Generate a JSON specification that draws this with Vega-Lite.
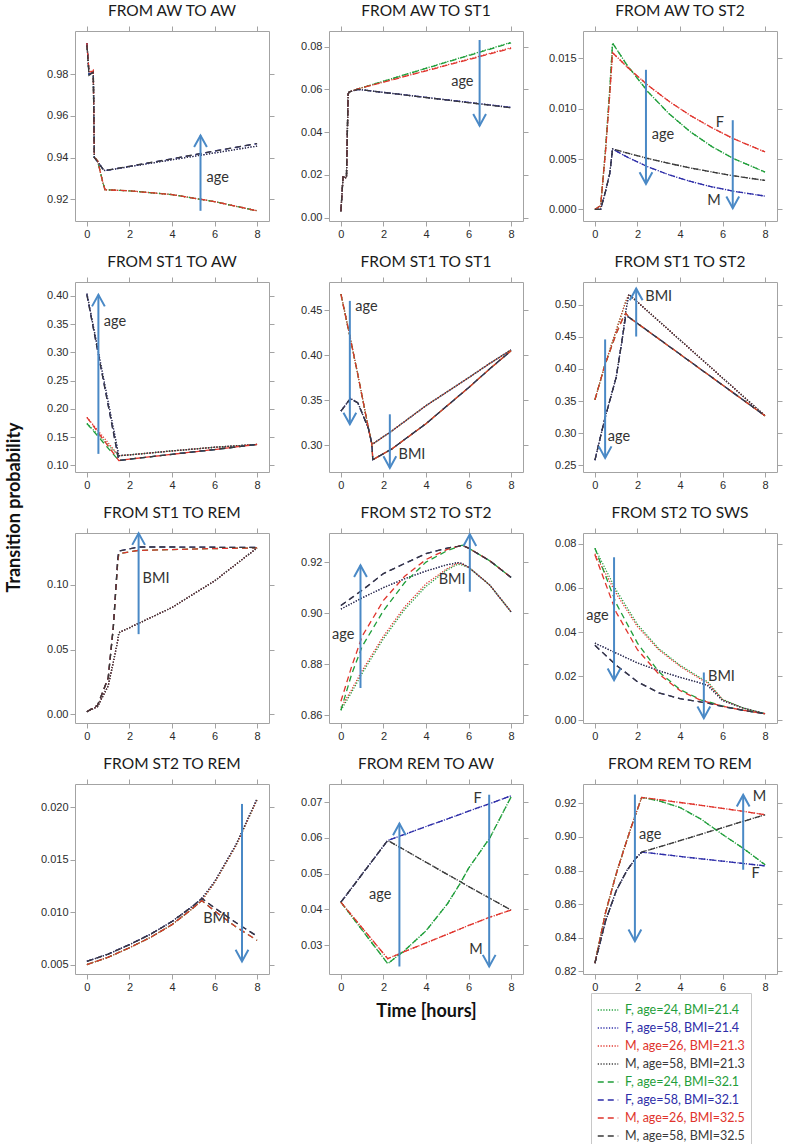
{
"$schema": "https://vega.github.io/schema/vega-lite/v6.json",
"padding": {"left": 4, "top": 3, "right": 4, "bottom": 0},
"background": "white",
"datasets": {
"L": [
{"p":1,"t":0,"a":0.995,"b":0.995,"c":0.995,"d":0.995,"e":0.995,"f":0.995,"g":0.995,"h":0.994},
{"p":1,"t":0.1,"a":0.98,"b":0.98,"c":0.981,"d":0.98,"e":0.98,"f":0.98,"g":0.981,"h":0.9795},
{"p":1,"t":0.3,"a":0.981,"b":0.981,"c":0.982,"d":0.981,"e":0.981,"f":0.981,"g":0.9815,"h":0.981},
{"p":1,"t":0.35,"a":0.94,"b":0.94,"c":0.94,"d":0.94,"e":0.94,"f":0.94,"g":0.94,"h":0.94},
{"p":1,"t":0.5,"a":0.9385,"b":0.938,"c":0.9385,"d":0.938,"e":0.9385,"f":0.938,"g":0.9385,"h":0.938},
{"p":1,"t":0.75,"a":0.928,"b":0.9345,"c":0.928,"d":0.9345,"e":0.928,"f":0.9345,"g":0.928,"h":0.9345},
{"p":1,"t":0.85,"a":0.9245,"b":0.9337,"c":0.9245,"d":0.9337,"e":0.9245,"f":0.9337,"g":0.9245,"h":0.9337},
{"p":1,"t":2,"a":0.924,"b":0.9356,"c":0.924,"d":0.9356,"e":0.924,"f":0.9358,"g":0.924,"h":0.9358},
{"p":1,"t":4,"a":0.9222,"b":0.9389,"c":0.9222,"d":0.9389,"e":0.9222,"f":0.9394,"g":0.9222,"h":0.9394},
{"p":1,"t":6,"a":0.9188,"b":0.9422,"c":0.9188,"d":0.9422,"e":0.9188,"f":0.9431,"g":0.9188,"h":0.9431},
{"p":1,"t":8,"a":0.9144,"b":0.9455,"c":0.9144,"d":0.9455,"e":0.9144,"f":0.9467,"g":0.9144,"h":0.9467},
{"p":2,"t":0,"a":0.003,"b":0.003,"c":0.003,"d":0.003,"e":0.003,"f":0.003,"g":0.003,"h":0.003},
{"p":2,"t":0.1,"a":0.019,"b":0.019,"c":0.019,"d":0.019,"e":0.019,"f":0.019,"g":0.019,"h":0.019},
{"p":2,"t":0.26,"a":0.0185,"b":0.0185,"c":0.0185,"d":0.0185,"e":0.0185,"f":0.0185,"g":0.0185,"h":0.0185},
{"p":2,"t":0.34,"a":0.058,"b":0.058,"c":0.058,"d":0.058,"e":0.058,"f":0.058,"g":0.058,"h":0.058},
{"p":2,"t":0.4,"a":0.0588,"b":0.0588,"c":0.0588,"d":0.0588,"e":0.0588,"f":0.0588,"g":0.0588,"h":0.0588},
{"p":2,"t":0.8,"a":0.0602,"b":0.06,"c":0.0602,"d":0.06,"e":0.0602,"f":0.06,"g":0.0602,"h":0.06},
{"p":2,"t":8,"a":0.082,"b":0.0516,"c":0.0795,"d":0.0514,"e":0.0818,"f":0.0515,"g":0.0792,"h":0.0514},
{"p":3,"t":0,"a":0,"b":0,"c":0,"d":0,"e":0,"f":0,"g":0,"h":0},
{"p":3,"t":0.27,"a":0.0003,"b":0,"c":0.0003,"d":0,"e":0.0004,"f":0,"g":0.0004,"h":0},
{"p":3,"t":0.5,"a":0.006,"b":0.0018,"c":0.0058,"d":0.0018,"e":0.006,"f":0.0018,"g":0.0058,"h":0.0018},
{"p":3,"t":0.7,"a":0.012,"b":0.0036,"c":0.0115,"d":0.0036,"e":0.012,"f":0.0036,"g":0.0115,"h":0.0036},
{"p":3,"t":0.83,"a":0.0165,"b":0.006,"c":0.01555,"d":0.006,"e":0.0165,"f":0.006,"g":0.01555,"h":0.006},
{"p":3,"t":1.5,"a":0.01435,"b":0.00521,"c":0.01416,"d":0.0056,"e":0.01435,"f":0.00521,"g":0.01416,"h":0.0056},
{"p":3,"t":2.5,"a":0.01165,"b":0.00422,"c":0.0123,"d":0.00505,"e":0.01165,"f":0.00422,"g":0.0123,"h":0.00505},
{"p":3,"t":3.5,"a":0.00946,"b":0.00342,"c":0.0107,"d":0.00456,"e":0.00946,"f":0.00342,"g":0.0107,"h":0.00456},
{"p":3,"t":4.5,"a":0.00768,"b":0.00277,"c":0.0093,"d":0.00411,"e":0.00768,"f":0.00277,"g":0.0093,"h":0.00411},
{"p":3,"t":5.5,"a":0.00623,"b":0.00224,"c":0.0081,"d":0.00371,"e":0.00623,"f":0.00224,"g":0.0081,"h":0.00371},
{"p":3,"t":6.5,"a":0.00506,"b":0.00181,"c":0.00703,"d":0.00334,"e":0.00506,"f":0.00181,"g":0.00703,"h":0.00334},
{"p":3,"t":8,"a":0.0037,"b":0.00132,"c":0.0057,"d":0.00287,"e":0.0037,"f":0.00132,"g":0.0057,"h":0.00287},
{"p":4,"t":0,"a":0.174,"b":0.404,"c":0.185,"d":0.404,"e":0.174,"f":0.402,"g":0.185,"h":0.402},
{"p":4,"t":1.5,"a":0.117,"b":0.117,"c":0.117,"d":0.117,"e":0.1085,"f":0.1085,"g":0.1085,"h":0.1085},
{"p":4,"t":2,"a":0.1185,"b":0.1185,"c":0.1185,"d":0.1185,"e":0.111,"f":0.111,"g":0.111,"h":0.111},
{"p":4,"t":4,"a":0.1255,"b":0.1255,"c":0.1255,"d":0.1255,"e":0.1195,"f":0.1195,"g":0.1195,"h":0.1195},
{"p":4,"t":6,"a":0.132,"b":0.132,"c":0.132,"d":0.132,"e":0.128,"f":0.128,"g":0.128,"h":0.128},
{"p":4,"t":8,"a":0.137,"b":0.137,"c":0.137,"d":0.137,"e":0.137,"f":0.137,"g":0.137,"h":0.137},
{"p":5,"t":0,"a":0.468,"b":0.338,"c":0.468,"d":0.338,"e":0.468,"f":0.338,"g":0.468,"h":0.338},
{"p":5,"t":0.45,"a":0.418,"b":0.352,"c":0.418,"d":0.352,"e":0.418,"f":0.352,"g":0.418,"h":0.352},
{"p":5,"t":0.8,"a":0.378,"b":0.347,"c":0.378,"d":0.347,"e":0.378,"f":0.347,"g":0.378,"h":0.347},
{"p":5,"t":1.3,"a":0.318,"b":0.318,"c":0.318,"d":0.318,"e":0.318,"f":0.318,"g":0.318,"h":0.318},
{"p":5,"t":1.45,"a":0.302,"b":0.302,"c":0.302,"d":0.302,"e":0.302,"f":0.302,"g":0.302,"h":0.302},
{"p":5,"t":1.5,"a":0.3015,"b":0.3015,"c":0.3015,"d":0.3015,"e":0.284,"f":0.284,"g":0.284,"h":0.284},
{"p":5,"t":2.4,"a":0.316,"b":0.316,"c":0.316,"d":0.316,"e":0.296,"f":0.296,"g":0.296,"h":0.296},
{"p":5,"t":4,"a":0.344,"b":0.344,"c":0.344,"d":0.344,"e":0.324,"f":0.324,"g":0.324,"h":0.324},
{"p":5,"t":6,"a":0.375,"b":0.375,"c":0.375,"d":0.375,"e":0.364,"f":0.364,"g":0.364,"h":0.364},
{"p":5,"t":7,"a":0.391,"b":0.391,"c":0.391,"d":0.391,"e":0.385,"f":0.385,"g":0.385,"h":0.385},
{"p":5,"t":8,"a":0.406,"b":0.406,"c":0.406,"d":0.406,"e":0.405,"f":0.405,"g":0.405,"h":0.405},
{"p":6,"t":0,"a":0.352,"b":0.258,"c":0.352,"d":0.258,"e":0.352,"f":0.258,"g":0.352,"h":0.258},
{"p":6,"t":0.46,"a":0.405,"b":0.322,"c":0.405,"d":0.322,"e":0.405,"f":0.322,"g":0.405,"h":0.322},
{"p":6,"t":1.0,"a":0.46,"b":0.387,"c":0.46,"d":0.387,"e":0.455,"f":0.387,"g":0.455,"h":0.387},
{"p":6,"t":1.3,"a":0.49,"b":0.45,"c":0.49,"d":0.45,"e":0.478,"f":0.45,"g":0.478,"h":0.45},
{"p":6,"t":1.45,"a":0.505,"b":0.49,"c":0.505,"d":0.49,"e":0.487,"f":0.483,"g":0.487,"h":0.483},
{"p":6,"t":1.6,"a":0.516,"b":0.516,"c":0.516,"d":0.516,"e":0.4805,"f":0.4805,"g":0.4805,"h":0.4805},
{"p":6,"t":8,"a":0.327,"b":0.327,"c":0.327,"d":0.327,"e":0.327,"f":0.327,"g":0.327,"h":0.327},
{"p":7,"t":0,"a":0.002,"b":0.002,"c":0.002,"d":0.002,"e":0.002,"f":0.002,"g":0.002,"h":0.002},
{"p":7,"t":0.5,"a":0.006,"b":0.006,"c":0.006,"d":0.006,"e":0.007,"f":0.007,"g":0.007,"h":0.007},
{"p":7,"t":1.0,"a":0.022,"b":0.022,"c":0.022,"d":0.022,"e":0.028,"f":0.028,"g":0.028,"h":0.028},
{"p":7,"t":1.24,"a":0.04,"b":0.04,"c":0.04,"d":0.04,"e":0.067,"f":0.067,"g":0.067,"h":0.067},
{"p":7,"t":1.45,"a":0.057,"b":0.057,"c":0.057,"d":0.057,"e":0.118,"f":0.12,"g":0.118,"h":0.12},
{"p":7,"t":1.5,"a":0.063,"b":0.063,"c":0.063,"d":0.063,"e":0.124,"f":0.126,"g":0.124,"h":0.126},
{"p":7,"t":2.4,"a":0.07,"b":0.07,"c":0.07,"d":0.07,"e":0.1265,"f":0.1292,"g":0.1265,"h":0.1292},
{"p":7,"t":4,"a":0.0825,"b":0.0825,"c":0.0825,"d":0.0825,"e":0.1272,"f":0.1292,"g":0.1272,"h":0.1292},
{"p":7,"t":6,"a":0.103,"b":0.103,"c":0.103,"d":0.103,"e":0.128,"f":0.129,"g":0.128,"h":0.129},
{"p":7,"t":8,"a":0.1285,"b":0.1285,"c":0.1285,"d":0.1285,"e":0.1285,"f":0.1288,"g":0.1285,"h":0.1288},
{"p":8,"t":0,"a":0.862,"b":0.9016,"c":0.863,"d":0.9016,"e":0.862,"f":0.903,"g":0.8655,"h":0.903},
{"p":8,"t":0.5,"a":0.869,"b":0.9038,"c":0.87,"d":0.9038,"e":0.876,"f":0.906,"g":0.879,"h":0.906},
{"p":8,"t":1,"a":0.8765,"b":0.906,"c":0.8775,"d":0.906,"e":0.887,"f":0.909,"g":0.891,"h":0.909},
{"p":8,"t":2,"a":0.89,"b":0.91,"c":0.891,"d":0.91,"e":0.901,"f":0.9155,"g":0.905,"h":0.9155},
{"p":8,"t":3,"a":0.9015,"b":0.9135,"c":0.9025,"d":0.9135,"e":0.912,"f":0.9195,"g":0.9145,"h":0.9195},
{"p":8,"t":4,"a":0.9105,"b":0.9165,"c":0.9115,"d":0.9165,"e":0.92,"f":0.9233,"g":0.921,"h":0.9233},
{"p":8,"t":5,"a":0.917,"b":0.919,"c":0.9175,"d":0.919,"e":0.9245,"f":0.9255,"g":0.925,"h":0.9255},
{"p":8,"t":5.5,"a":0.9192,"b":0.9198,"c":0.9196,"d":0.9198,"e":0.926,"f":0.9262,"g":0.9262,"h":0.9262},
{"p":8,"t":5.7,"a":0.9188,"b":0.9194,"c":0.9192,"d":0.9194,"e":0.9266,"f":0.9266,"g":0.9266,"h":0.9266},
{"p":8,"t":6,"a":0.918,"b":0.918,"c":0.918,"d":0.918,"e":0.9255,"f":0.9255,"g":0.9255,"h":0.9255},
{"p":8,"t":7,"a":0.911,"b":0.911,"c":0.911,"d":0.911,"e":0.9205,"f":0.9205,"g":0.9205,"h":0.9205},
{"p":8,"t":8,"a":0.9005,"b":0.9005,"c":0.9005,"d":0.9005,"e":0.914,"f":0.914,"g":0.914,"h":0.914},
{"p":9,"t":0,"a":0.078,"b":0.035,"c":0.0755,"d":0.035,"e":0.078,"f":0.034,"g":0.075,"h":0.034},
{"p":9,"t":1,"a":0.059,"b":0.0305,"c":0.0575,"d":0.0305,"e":0.053,"f":0.025,"g":0.049,"h":0.025},
{"p":9,"t":2,"a":0.0435,"b":0.026,"c":0.0425,"d":0.026,"e":0.035,"f":0.0175,"g":0.032,"h":0.0175},
{"p":9,"t":3,"a":0.0325,"b":0.0225,"c":0.032,"d":0.0225,"e":0.022,"f":0.0125,"g":0.021,"h":0.0125},
{"p":9,"t":4,"a":0.025,"b":0.0195,"c":0.0245,"d":0.0195,"e":0.014,"f":0.0098,"g":0.0135,"h":0.0098},
{"p":9,"t":5,"a":0.019,"b":0.0168,"c":0.0185,"d":0.0168,"e":0.0092,"f":0.0083,"g":0.009,"h":0.0083},
{"p":9,"t":5.3,"a":0.0175,"b":0.0158,"c":0.017,"d":0.0158,"e":0.0085,"f":0.0078,"g":0.0083,"h":0.0078},
{"p":9,"t":6,"a":0.0095,"b":0.009,"c":0.0093,"d":0.009,"e":0.0065,"f":0.0063,"g":0.0064,"h":0.0063},
{"p":9,"t":7,"a":0.0055,"b":0.0055,"c":0.0054,"d":0.0055,"e":0.0045,"f":0.0045,"g":0.0045,"h":0.0045},
{"p":9,"t":8,"a":0.003,"b":0.003,"c":0.003,"d":0.003,"e":0.003,"f":0.003,"g":0.003,"h":0.003},
{"p":10,"t":0,"a":0.005,"b":0.0053,"c":0.005,"d":0.0053,"e":0.005,"f":0.0053,"g":0.005,"h":0.0053},
{"p":10,"t":1,"a":0.0057,"b":0.006,"c":0.0057,"d":0.006,"e":0.0057,"f":0.006,"g":0.0057,"h":0.006},
{"p":10,"t":2,"a":0.0066,"b":0.0069,"c":0.0066,"d":0.0069,"e":0.0066,"f":0.0069,"g":0.0066,"h":0.0069},
{"p":10,"t":3,"a":0.0076,"b":0.0079,"c":0.0076,"d":0.0079,"e":0.0076,"f":0.0079,"g":0.0076,"h":0.0079},
{"p":10,"t":4,"a":0.0088,"b":0.0091,"c":0.0088,"d":0.0091,"e":0.0088,"f":0.0091,"g":0.0088,"h":0.0091},
{"p":10,"t":5,"a":0.0104,"b":0.0106,"c":0.0104,"d":0.0106,"e":0.0104,"f":0.0106,"g":0.0104,"h":0.0106},
{"p":10,"t":5.4,"a":0.0111,"b":0.0113,"c":0.0111,"d":0.0113,"e":0.0111,"f":0.0113,"g":0.0111,"h":0.0113},
{"p":10,"t":6,"a":0.0128,"b":0.0129,"c":0.0128,"d":0.0129,"e":0.0101,"f":0.0104,"g":0.0101,"h":0.0104},
{"p":10,"t":7,"a":0.0163,"b":0.0164,"c":0.0163,"d":0.0164,"e":0.0086,"f":0.009,"g":0.0086,"h":0.009},
{"p":10,"t":8,"a":0.0207,"b":0.0208,"c":0.0207,"d":0.0208,"e":0.0073,"f":0.0077,"g":0.0073,"h":0.0077},
{"p":11,"t":0,"a":0.042,"b":0.042,"c":0.042,"d":0.042,"e":0.042,"f":0.042,"g":0.042,"h":0.042},
{"p":11,"t":2.2,"a":0.0248,"b":0.0593,"c":0.0262,"d":0.0593,"e":0.0248,"f":0.0593,"g":0.0262,"h":0.0593},
{"p":11,"t":3,"a":0.0285,"b":0.061,"c":0.0282,"d":0.0566,"e":0.0285,"f":0.061,"g":0.0282,"h":0.0566},
{"p":11,"t":4,"a":0.034,"b":0.0632,"c":0.0306,"d":0.0532,"e":0.034,"f":0.0632,"g":0.0306,"h":0.0532},
{"p":11,"t":5,"a":0.0415,"b":0.0653,"c":0.033,"d":0.0498,"e":0.0415,"f":0.0653,"g":0.033,"h":0.0498},
{"p":11,"t":5.6,"a":0.0472,"b":0.0666,"c":0.0345,"d":0.0478,"e":0.0472,"f":0.0666,"g":0.0345,"h":0.0478},
{"p":11,"t":6,"a":0.0515,"b":0.0675,"c":0.0355,"d":0.0464,"e":0.0515,"f":0.0675,"g":0.0355,"h":0.0464},
{"p":11,"t":7,"a":0.06,"b":0.0696,"c":0.0378,"d":0.0431,"e":0.06,"f":0.0696,"g":0.0378,"h":0.0431},
{"p":11,"t":8,"a":0.0715,"b":0.0718,"c":0.0398,"d":0.0398,"e":0.0715,"f":0.0718,"g":0.0398,"h":0.0398},
{"p":12,"t":0,"a":0.825,"b":0.825,"c":0.825,"d":0.825,"e":0.825,"f":0.825,"g":0.825,"h":0.825},
{"p":12,"t":0.5,"a":0.855,"b":0.85,"c":0.855,"d":0.85,"e":0.855,"f":0.85,"g":0.855,"h":0.85},
{"p":12,"t":1,"a":0.878,"b":0.868,"c":0.878,"d":0.868,"e":0.878,"f":0.868,"g":0.878,"h":0.868},
{"p":12,"t":1.5,"a":0.898,"b":0.88,"c":0.898,"d":0.88,"e":0.898,"f":0.88,"g":0.898,"h":0.88},
{"p":12,"t":1.9,"a":0.913,"b":0.887,"c":0.913,"d":0.887,"e":0.913,"f":0.887,"g":0.913,"h":0.887},
{"p":12,"t":2.2,"a":0.9235,"b":0.891,"c":0.9235,"d":0.891,"e":0.9235,"f":0.891,"g":0.9235,"h":0.891},
{"p":12,"t":3,"a":0.9215,"b":0.8899,"c":0.9222,"d":0.894,"e":0.9215,"f":0.8899,"g":0.9222,"h":0.894},
{"p":12,"t":4,"a":0.9175,"b":0.8884,"c":0.9205,"d":0.8978,"e":0.9175,"f":0.8884,"g":0.9205,"h":0.8978},
{"p":12,"t":5,"a":0.9105,"b":0.887,"c":0.9188,"d":0.9017,"e":0.9105,"f":0.887,"g":0.9188,"h":0.9017},
{"p":12,"t":6,"a":0.9015,"b":0.8856,"c":0.917,"d":0.9055,"e":0.9015,"f":0.8856,"g":0.917,"h":0.9055},
{"p":12,"t":7,"a":0.893,"b":0.8842,"c":0.9152,"d":0.9094,"e":0.893,"f":0.8842,"g":0.9152,"h":0.9094},
{"p":12,"t":8,"a":0.8835,"b":0.8828,"c":0.9132,"d":0.9132,"e":0.8835,"f":0.8828,"g":0.9132,"h":0.9132}
],
"A": [
{"p":1,"t":5.34,"y1":0.9144,"y2":0.9506},
{"p":2,"t":6.52,"y1":0.0831,"y2":0.043},
{"p":3,"t":2.4,"y1":0.01385,"y2":0.00253},
{"p":3,"t":6.48,"y1":0.00885,"y2":0.00012},
{"p":4,"t":0.54,"y1":0.1203,"y2":0.402},
{"p":5,"t":0.42,"y1":0.4604,"y2":0.3233},
{"p":5,"t":2.3,"y1":0.3344,"y2":0.2748},
{"p":6,"t":1.94,"y1":0.4505,"y2":0.525},
{"p":6,"t":0.48,"y1":0.446,"y2":0.2614},
{"p":7,"t":2.43,"y1":0.0619,"y2":0.1398},
{"p":8,"t":0.92,"y1":0.8707,"y2":0.9187},
{"p":8,"t":6.06,"y1":0.9084,"y2":0.9309},
{"p":9,"t":0.9,"y1":0.0739,"y2":0.0182},
{"p":9,"t":5.12,"y1":0.0217,"y2":0.001},
{"p":10,"t":7.29,"y1":0.0203,"y2":0.0053},
{"p":11,"t":2.75,"y1":0.024,"y2":0.064},
{"p":11,"t":6.97,"y1":0.0721,"y2":0.024},
{"p":12,"t":1.88,"y1":0.9252,"y2":0.838},
{"p":12,"t":6.97,"y1":0.8805,"y2":0.925}
],
"T": [
{"p":1,"t":6.15,"v":0.9304,"txt":"age"},
{"p":2,"t":5.71,"v":0.0636,"txt":"age"},
{"p":3,"t":3.2,"v":0.00743,"txt":"age"},
{"p":3,"t":5.87,"v":0.00857,"txt":"F"},
{"p":3,"t":5.6,"v":0.0008,"txt":"M"},
{"p":4,"t":1.32,"v":0.3544,"txt":"age"},
{"p":5,"t":1.2,"v":0.4537,"txt":"age"},
{"p":5,"t":3.34,"v":0.2889,"txt":"BMI"},
{"p":6,"t":3.0,"v":0.512,"txt":"BMI"},
{"p":6,"t":1.13,"v":0.2938,"txt":"age"},
{"p":7,"t":3.25,"v":0.1044,"txt":"BMI"},
{"p":8,"t":0.11,"v":0.8915,"txt":"age"},
{"p":8,"t":5.23,"v":0.9131,"txt":"BMI"},
{"p":9,"t":0.12,"v":0.0475,"txt":"age"},
{"p":9,"t":5.95,"v":0.0197,"txt":"BMI"},
{"p":10,"t":6.1,"v":0.0093,"txt":"BMI"},
{"p":11,"t":1.85,"v":0.044,"txt":"age"},
{"p":11,"t":6.43,"v":0.0709,"txt":"F"},
{"p":11,"t":6.35,"v":0.0285,"txt":"M"},
{"p":12,"t":2.6,"v":0.9012,"txt":"age"},
{"p":12,"t":7.74,"v":0.9235,"txt":"M"},
{"p":12,"t":7.55,"v":0.8777,"txt":"F"}
]
},
"columns": 3,
"spacing": {"row": 61, "column": 60},
"bounds": "flush",
"concat": [
{"title": {"text": "FROM AW TO AW", "style": "ptitle"}, "width": 194, "height": 190, "resolve": {"axis": {"x": "independent", "y": "independent"}},
 "layer": [
  {"data": {"name": "L"}, "transform": [{"filter": "datum.p==1"}, {"fold": ["a","b","c","d","e","f","g","h"], "as": ["s","v"]}],
   "mark": {"type": "line", "strokeWidth": 1.3},
   "encoding": {
    "x": {"field": "t", "type": "quantitative", "scale": {"domain": [-0.56, 8.56], "nice": false}, "axis": {"values": [0,2,4,6,8], "title": null}},
    "y": {"field": "v", "type": "quantitative", "scale": {"domain": [0.9095, 1.0008], "nice": false, "zero": false}, "axis": {"values": [0.92,0.94,0.96,0.98], "format": ".2f", "title": null}},
    "color": {"field": "s", "type": "nominal",
      "scale": {"domain": ["a","b","c","d","e","f","g","h"], "range": ["#1f9e3a","#2d2da8","#e0342c","#3a3a3a","#1f9e3a","#2d2da8","#e0342c","#3a3a3a"]},
      "legend": {"orient": "none", "legendX": 516, "legendY": 962, "title": null, "symbolType": "stroke", "symbolSize": 420, "symbolStrokeWidth": 1.5,
        "labelFont": "Lato", "labelFontSize": 12.5, "labelLimit": 400, "labelOffset": 6, "strokeColor": "#c8c8c8", "padding": 6, "rowPadding": 0,
        "labelExpr": "datum.value=='a'?'F, age=24, BMI=21.4':datum.value=='b'?'F, age=58, BMI=21.4':datum.value=='c'?'M, age=26, BMI=21.3':datum.value=='d'?'M, age=58, BMI=21.3':datum.value=='e'?'F, age=24, BMI=32.1':datum.value=='f'?'F, age=58, BMI=32.1':datum.value=='g'?'M, age=26, BMI=32.5':'M, age=58, BMI=32.5'",
        "labelColor": {"expr": "(datum.value=='a'||datum.value=='e')?'#1f9e3a':(datum.value=='b'||datum.value=='f')?'#2d2da8':(datum.value=='c'||datum.value=='g')?'#e0342c':'#3a3a3a'"},
        "symbolDash": {"expr": "(datum.value=='a'||datum.value=='b'||datum.value=='c'||datum.value=='d')?[1.2,1.6]:[5,4]"}}},
    "strokeDash": {"field": "s", "type": "nominal", "scale": {"domain": ["a","b","c","d","e","f","g","h"], "range": [[1.2,1.6],[1.2,1.6],[1.2,1.6],[1.2,1.6],[6,4],[6,4],[6,4],[6,4]]}, "legend": null}
   }},
  {"data": {"name": "A"}, "transform": [{"filter": "datum.p==1"}], "mark": {"type": "rule", "color": "#4a89c6", "strokeWidth": 2},
   "encoding": {"x": {"field": "t", "type": "quantitative", "axis": {"orient": "top", "values": [0,2,4,6,8], "labels": false, "title": null}},
    "y": {"field": "y1", "type": "quantitative", "axis": {"orient": "right", "values": [0.92,0.94,0.96,0.98], "labels": false, "title": null}}, "y2": {"field": "y2"}}},
  {"data": {"name": "A"}, "transform": [{"filter": "datum.p==1"}], "mark": {"type": "point", "filled": false, "color": "#4a89c6", "strokeWidth": 2, "size": 540, "opacity": 1},
   "encoding": {"x": {"field": "t", "type": "quantitative", "axis": null}, "y": {"field": "y2", "type": "quantitative", "axis": null},
    "shape": {"condition": {"test": "datum.y2 < datum.y1", "value": "M-0.55,-1L0,0L0.55,-1"}, "value": "M-0.55,1L0,0L0.55,1"}}},
  {"data": {"name": "T"}, "transform": [{"filter": "datum.p==1"}], "mark": {"type": "text", "font": "Lato", "fontSize": 14.5, "color": "#333333"},
   "encoding": {"x": {"field": "t", "type": "quantitative", "axis": null}, "y": {"field": "v", "type": "quantitative", "axis": null}, "text": {"field": "txt"}}}
 ]},
{"title": {"text": "FROM AW TO ST1", "style": "ptitle"}, "width": 194, "height": 190, "resolve": {"axis": {"x": "independent", "y": "independent"}},
 "layer": [
  {"data": {"name": "L"}, "transform": [{"filter": "datum.p==2"}, {"fold": ["a","b","c","d","e","f","g","h"], "as": ["s","v"]}],
   "mark": {"type": "line", "strokeWidth": 1.3},
   "encoding": {
    "x": {"field": "t", "type": "quantitative", "scale": {"domain": [-0.56, 8.56], "nice": false}, "axis": {"values": [0,2,4,6,8], "title": null}},
    "y": {"field": "v", "type": "quantitative", "scale": {"domain": [-0.0016, 0.0873], "nice": false, "zero": false}, "axis": {"values": [0,0.02,0.04,0.06,0.08], "format": ".2f", "title": null}},
    "color": {"field": "s", "type": "nominal"}, "strokeDash": {"field": "s", "type": "nominal", "legend": null}}},
  {"data": {"name": "A"}, "transform": [{"filter": "datum.p==2"}], "mark": {"type": "rule", "color": "#4a89c6", "strokeWidth": 2},
   "encoding": {"x": {"field": "t", "type": "quantitative", "axis": {"orient": "top", "values": [0,2,4,6,8], "labels": false, "title": null}},
    "y": {"field": "y1", "type": "quantitative", "axis": {"orient": "right", "values": [0,0.02,0.04,0.06,0.08], "labels": false, "title": null}}, "y2": {"field": "y2"}}},
  {"data": {"name": "A"}, "transform": [{"filter": "datum.p==2"}], "mark": {"type": "point", "filled": false, "color": "#4a89c6", "strokeWidth": 2, "size": 540, "opacity": 1},
   "encoding": {"x": {"field": "t", "type": "quantitative", "axis": null}, "y": {"field": "y2", "type": "quantitative", "axis": null},
    "shape": {"condition": {"test": "datum.y2 < datum.y1", "value": "M-0.55,-1L0,0L0.55,-1"}, "value": "M-0.55,1L0,0L0.55,1"}}},
  {"data": {"name": "T"}, "transform": [{"filter": "datum.p==2"}], "mark": {"type": "text", "font": "Lato", "fontSize": 14.5, "color": "#333333"},
   "encoding": {"x": {"field": "t", "type": "quantitative", "axis": null}, "y": {"field": "v", "type": "quantitative", "axis": null}, "text": {"field": "txt"}}}
 ]},
{"title": {"text": "FROM AW TO ST2", "style": "ptitle"}, "width": 194, "height": 190, "resolve": {"axis": {"x": "independent", "y": "independent"}},
 "layer": [
  {"data": {"name": "L"}, "transform": [{"filter": "datum.p==3"}, {"fold": ["a","b","c","d","e","f","g","h"], "as": ["s","v"]}],
   "mark": {"type": "line", "strokeWidth": 1.3},
   "encoding": {
    "x": {"field": "t", "type": "quantitative", "scale": {"domain": [-0.56, 8.56], "nice": false}, "axis": {"values": [0,2,4,6,8], "title": null}},
    "y": {"field": "v", "type": "quantitative", "scale": {"domain": [-0.00115, 0.0177], "nice": false, "zero": false}, "axis": {"values": [0,0.005,0.01,0.015], "format": ".3f", "title": null}},
    "color": {"field": "s", "type": "nominal"}, "strokeDash": {"field": "s", "type": "nominal", "legend": null}}},
  {"data": {"name": "A"}, "transform": [{"filter": "datum.p==3"}], "mark": {"type": "rule", "color": "#4a89c6", "strokeWidth": 2},
   "encoding": {"x": {"field": "t", "type": "quantitative", "axis": {"orient": "top", "values": [0,2,4,6,8], "labels": false, "title": null}},
    "y": {"field": "y1", "type": "quantitative", "axis": {"orient": "right", "values": [0,0.005,0.01,0.015], "labels": false, "title": null}}, "y2": {"field": "y2"}}},
  {"data": {"name": "A"}, "transform": [{"filter": "datum.p==3"}], "mark": {"type": "point", "filled": false, "color": "#4a89c6", "strokeWidth": 2, "size": 540, "opacity": 1},
   "encoding": {"x": {"field": "t", "type": "quantitative", "axis": null}, "y": {"field": "y2", "type": "quantitative", "axis": null},
    "shape": {"condition": {"test": "datum.y2 < datum.y1", "value": "M-0.55,-1L0,0L0.55,-1"}, "value": "M-0.55,1L0,0L0.55,1"}}},
  {"data": {"name": "T"}, "transform": [{"filter": "datum.p==3"}], "mark": {"type": "text", "font": "Lato", "fontSize": 14.5, "color": "#333333"},
   "encoding": {"x": {"field": "t", "type": "quantitative", "axis": null}, "y": {"field": "v", "type": "quantitative", "axis": null}, "text": {"field": "txt"}}}
 ]},
{"title": {"text": "FROM ST1 TO AW", "style": "ptitle"}, "width": 194, "height": 190, "resolve": {"axis": {"x": "independent", "y": "independent"}},
 "layer": [
  {"data": {"name": "L"}, "transform": [{"filter": "datum.p==4"}, {"fold": ["a","b","c","d","e","f","g","h"], "as": ["s","v"]}],
   "mark": {"type": "line", "strokeWidth": 1.3},
   "encoding": {
    "x": {"field": "t", "type": "quantitative", "scale": {"domain": [-0.56, 8.56], "nice": false}, "axis": {"values": [0,2,4,6,8], "title": null}},
    "y": {"field": "v", "type": "quantitative", "scale": {"domain": [0.0882, 0.4246], "nice": false, "zero": false}, "axis": {"values": [0.1,0.15,0.2,0.25,0.3,0.35,0.4], "format": ".2f", "title": "Transition probability", "titleX": -52, "titleY": 225, "titleAngle": -90, "titleAlign": "center", "titleBaseline": "bottom"}},
    "color": {"field": "s", "type": "nominal"}, "strokeDash": {"field": "s", "type": "nominal", "legend": null}}},
  {"data": {"name": "A"}, "transform": [{"filter": "datum.p==4"}], "mark": {"type": "rule", "color": "#4a89c6", "strokeWidth": 2},
   "encoding": {"x": {"field": "t", "type": "quantitative", "axis": {"orient": "top", "values": [0,2,4,6,8], "labels": false, "title": null}},
    "y": {"field": "y1", "type": "quantitative", "axis": {"orient": "right", "values": [0.1,0.15,0.2,0.25,0.3,0.35,0.4], "labels": false, "title": null}}, "y2": {"field": "y2"}}},
  {"data": {"name": "A"}, "transform": [{"filter": "datum.p==4"}], "mark": {"type": "point", "filled": false, "color": "#4a89c6", "strokeWidth": 2, "size": 540, "opacity": 1},
   "encoding": {"x": {"field": "t", "type": "quantitative", "axis": null}, "y": {"field": "y2", "type": "quantitative", "axis": null},
    "shape": {"condition": {"test": "datum.y2 < datum.y1", "value": "M-0.55,-1L0,0L0.55,-1"}, "value": "M-0.55,1L0,0L0.55,1"}}},
  {"data": {"name": "T"}, "transform": [{"filter": "datum.p==4"}], "mark": {"type": "text", "font": "Lato", "fontSize": 14.5, "color": "#333333"},
   "encoding": {"x": {"field": "t", "type": "quantitative", "axis": null}, "y": {"field": "v", "type": "quantitative", "axis": null}, "text": {"field": "txt"}}}
 ]},
{"title": {"text": "FROM ST1 TO ST1", "style": "ptitle"}, "width": 194, "height": 190, "resolve": {"axis": {"x": "independent", "y": "independent"}},
 "layer": [
  {"data": {"name": "L"}, "transform": [{"filter": "datum.p==5"}, {"fold": ["a","b","c","d","e","f","g","h"], "as": ["s","v"]}],
   "mark": {"type": "line", "strokeWidth": 1.3},
   "encoding": {
    "x": {"field": "t", "type": "quantitative", "scale": {"domain": [-0.56, 8.56], "nice": false}, "axis": {"values": [0,2,4,6,8], "title": null}},
    "y": {"field": "v", "type": "quantitative", "scale": {"domain": [0.2703, 0.4814], "nice": false, "zero": false}, "axis": {"values": [0.3,0.35,0.4,0.45], "format": ".2f", "title": null}},
    "color": {"field": "s", "type": "nominal"}, "strokeDash": {"field": "s", "type": "nominal", "legend": null}}},
  {"data": {"name": "A"}, "transform": [{"filter": "datum.p==5"}], "mark": {"type": "rule", "color": "#4a89c6", "strokeWidth": 2},
   "encoding": {"x": {"field": "t", "type": "quantitative", "axis": {"orient": "top", "values": [0,2,4,6,8], "labels": false, "title": null}},
    "y": {"field": "y1", "type": "quantitative", "axis": {"orient": "right", "values": [0.3,0.35,0.4,0.45], "labels": false, "title": null}}, "y2": {"field": "y2"}}},
  {"data": {"name": "A"}, "transform": [{"filter": "datum.p==5"}], "mark": {"type": "point", "filled": false, "color": "#4a89c6", "strokeWidth": 2, "size": 540, "opacity": 1},
   "encoding": {"x": {"field": "t", "type": "quantitative", "axis": null}, "y": {"field": "y2", "type": "quantitative", "axis": null},
    "shape": {"condition": {"test": "datum.y2 < datum.y1", "value": "M-0.55,-1L0,0L0.55,-1"}, "value": "M-0.55,1L0,0L0.55,1"}}},
  {"data": {"name": "T"}, "transform": [{"filter": "datum.p==5"}], "mark": {"type": "text", "font": "Lato", "fontSize": 14.5, "color": "#333333"},
   "encoding": {"x": {"field": "t", "type": "quantitative", "axis": null}, "y": {"field": "v", "type": "quantitative", "axis": null}, "text": {"field": "txt"}}}
 ]},
{"title": {"text": "FROM ST1 TO ST2", "style": "ptitle"}, "width": 194, "height": 190, "resolve": {"axis": {"x": "independent", "y": "independent"}},
 "layer": [
  {"data": {"name": "L"}, "transform": [{"filter": "datum.p==6"}, {"fold": ["a","b","c","d","e","f","g","h"], "as": ["s","v"]}],
   "mark": {"type": "line", "strokeWidth": 1.3},
   "encoding": {
    "x": {"field": "t", "type": "quantitative", "scale": {"domain": [-0.56, 8.56], "nice": false}, "axis": {"values": [0,2,4,6,8], "title": null}},
    "y": {"field": "v", "type": "quantitative", "scale": {"domain": [0.2396, 0.5354], "nice": false, "zero": false}, "axis": {"values": [0.25,0.3,0.35,0.4,0.45,0.5], "format": ".2f", "title": null}},
    "color": {"field": "s", "type": "nominal"}, "strokeDash": {"field": "s", "type": "nominal", "legend": null}}},
  {"data": {"name": "A"}, "transform": [{"filter": "datum.p==6"}], "mark": {"type": "rule", "color": "#4a89c6", "strokeWidth": 2},
   "encoding": {"x": {"field": "t", "type": "quantitative", "axis": {"orient": "top", "values": [0,2,4,6,8], "labels": false, "title": null}},
    "y": {"field": "y1", "type": "quantitative", "axis": {"orient": "right", "values": [0.25,0.3,0.35,0.4,0.45,0.5], "labels": false, "title": null}}, "y2": {"field": "y2"}}},
  {"data": {"name": "A"}, "transform": [{"filter": "datum.p==6"}], "mark": {"type": "point", "filled": false, "color": "#4a89c6", "strokeWidth": 2, "size": 540, "opacity": 1},
   "encoding": {"x": {"field": "t", "type": "quantitative", "axis": null}, "y": {"field": "y2", "type": "quantitative", "axis": null},
    "shape": {"condition": {"test": "datum.y2 < datum.y1", "value": "M-0.55,-1L0,0L0.55,-1"}, "value": "M-0.55,1L0,0L0.55,1"}}},
  {"data": {"name": "T"}, "transform": [{"filter": "datum.p==6"}], "mark": {"type": "text", "font": "Lato", "fontSize": 14.5, "color": "#333333"},
   "encoding": {"x": {"field": "t", "type": "quantitative", "axis": null}, "y": {"field": "v", "type": "quantitative", "axis": null}, "text": {"field": "txt"}}}
 ]},
{"title": {"text": "FROM ST1 TO REM", "style": "ptitle"}, "width": 194, "height": 190, "resolve": {"axis": {"x": "independent", "y": "independent"}},
 "layer": [
  {"data": {"name": "L"}, "transform": [{"filter": "datum.p==7"}, {"fold": ["a","b","c","d","e","f","g","h"], "as": ["s","v"]}],
   "mark": {"type": "line", "strokeWidth": 1.3},
   "encoding": {
    "x": {"field": "t", "type": "quantitative", "scale": {"domain": [-0.56, 8.56], "nice": false}, "axis": {"values": [0,2,4,6,8], "title": null}},
    "y": {"field": "v", "type": "quantitative", "scale": {"domain": [-0.0067, 0.14], "nice": false, "zero": false}, "axis": {"values": [0,0.05,0.1], "format": ".2f", "title": null}},
    "color": {"field": "s", "type": "nominal"}, "strokeDash": {"field": "s", "type": "nominal", "legend": null}}},
  {"data": {"name": "A"}, "transform": [{"filter": "datum.p==7"}], "mark": {"type": "rule", "color": "#4a89c6", "strokeWidth": 2},
   "encoding": {"x": {"field": "t", "type": "quantitative", "axis": {"orient": "top", "values": [0,2,4,6,8], "labels": false, "title": null}},
    "y": {"field": "y1", "type": "quantitative", "axis": {"orient": "right", "values": [0,0.05,0.1], "labels": false, "title": null}}, "y2": {"field": "y2"}}},
  {"data": {"name": "A"}, "transform": [{"filter": "datum.p==7"}], "mark": {"type": "point", "filled": false, "color": "#4a89c6", "strokeWidth": 2, "size": 540, "opacity": 1},
   "encoding": {"x": {"field": "t", "type": "quantitative", "axis": null}, "y": {"field": "y2", "type": "quantitative", "axis": null},
    "shape": {"condition": {"test": "datum.y2 < datum.y1", "value": "M-0.55,-1L0,0L0.55,-1"}, "value": "M-0.55,1L0,0L0.55,1"}}},
  {"data": {"name": "T"}, "transform": [{"filter": "datum.p==7"}], "mark": {"type": "text", "font": "Lato", "fontSize": 14.5, "color": "#333333"},
   "encoding": {"x": {"field": "t", "type": "quantitative", "axis": null}, "y": {"field": "v", "type": "quantitative", "axis": null}, "text": {"field": "txt"}}}
 ]},
{"title": {"text": "FROM ST2 TO ST2", "style": "ptitle"}, "width": 194, "height": 190, "resolve": {"axis": {"x": "independent", "y": "independent"}},
 "layer": [
  {"data": {"name": "L"}, "transform": [{"filter": "datum.p==8"}, {"fold": ["a","b","c","d","e","f","g","h"], "as": ["s","v"]}],
   "mark": {"type": "line", "strokeWidth": 1.3},
   "encoding": {
    "x": {"field": "t", "type": "quantitative", "scale": {"domain": [-0.56, 8.56], "nice": false}, "axis": {"values": [0,2,4,6,8], "title": null}},
    "y": {"field": "v", "type": "quantitative", "scale": {"domain": [0.857, 0.9314], "nice": false, "zero": false}, "axis": {"values": [0.86,0.88,0.9,0.92], "format": ".2f", "title": null}},
    "color": {"field": "s", "type": "nominal"}, "strokeDash": {"field": "s", "type": "nominal", "legend": null}}},
  {"data": {"name": "A"}, "transform": [{"filter": "datum.p==8"}], "mark": {"type": "rule", "color": "#4a89c6", "strokeWidth": 2},
   "encoding": {"x": {"field": "t", "type": "quantitative", "axis": {"orient": "top", "values": [0,2,4,6,8], "labels": false, "title": null}},
    "y": {"field": "y1", "type": "quantitative", "axis": {"orient": "right", "values": [0.86,0.88,0.9,0.92], "labels": false, "title": null}}, "y2": {"field": "y2"}}},
  {"data": {"name": "A"}, "transform": [{"filter": "datum.p==8"}], "mark": {"type": "point", "filled": false, "color": "#4a89c6", "strokeWidth": 2, "size": 540, "opacity": 1},
   "encoding": {"x": {"field": "t", "type": "quantitative", "axis": null}, "y": {"field": "y2", "type": "quantitative", "axis": null},
    "shape": {"condition": {"test": "datum.y2 < datum.y1", "value": "M-0.55,-1L0,0L0.55,-1"}, "value": "M-0.55,1L0,0L0.55,1"}}},
  {"data": {"name": "T"}, "transform": [{"filter": "datum.p==8"}], "mark": {"type": "text", "font": "Lato", "fontSize": 14.5, "color": "#333333"},
   "encoding": {"x": {"field": "t", "type": "quantitative", "axis": null}, "y": {"field": "v", "type": "quantitative", "axis": null}, "text": {"field": "txt"}}}
 ]},
{"title": {"text": "FROM ST2 TO SWS", "style": "ptitle"}, "width": 194, "height": 190, "resolve": {"axis": {"x": "independent", "y": "independent"}},
 "layer": [
  {"data": {"name": "L"}, "transform": [{"filter": "datum.p==9"}, {"fold": ["a","b","c","d","e","f","g","h"], "as": ["s","v"]}],
   "mark": {"type": "line", "strokeWidth": 1.3},
   "encoding": {
    "x": {"field": "t", "type": "quantitative", "scale": {"domain": [-0.56, 8.56], "nice": false}, "axis": {"values": [0,2,4,6,8], "title": null}},
    "y": {"field": "v", "type": "quantitative", "scale": {"domain": [-0.0012, 0.0849], "nice": false, "zero": false}, "axis": {"values": [0,0.02,0.04,0.06,0.08], "format": ".2f", "title": null}},
    "color": {"field": "s", "type": "nominal"}, "strokeDash": {"field": "s", "type": "nominal", "legend": null}}},
  {"data": {"name": "A"}, "transform": [{"filter": "datum.p==9"}], "mark": {"type": "rule", "color": "#4a89c6", "strokeWidth": 2},
   "encoding": {"x": {"field": "t", "type": "quantitative", "axis": {"orient": "top", "values": [0,2,4,6,8], "labels": false, "title": null}},
    "y": {"field": "y1", "type": "quantitative", "axis": {"orient": "right", "values": [0,0.02,0.04,0.06,0.08], "labels": false, "title": null}}, "y2": {"field": "y2"}}},
  {"data": {"name": "A"}, "transform": [{"filter": "datum.p==9"}], "mark": {"type": "point", "filled": false, "color": "#4a89c6", "strokeWidth": 2, "size": 540, "opacity": 1},
   "encoding": {"x": {"field": "t", "type": "quantitative", "axis": null}, "y": {"field": "y2", "type": "quantitative", "axis": null},
    "shape": {"condition": {"test": "datum.y2 < datum.y1", "value": "M-0.55,-1L0,0L0.55,-1"}, "value": "M-0.55,1L0,0L0.55,1"}}},
  {"data": {"name": "T"}, "transform": [{"filter": "datum.p==9"}], "mark": {"type": "text", "font": "Lato", "fontSize": 14.5, "color": "#333333"},
   "encoding": {"x": {"field": "t", "type": "quantitative", "axis": null}, "y": {"field": "v", "type": "quantitative", "axis": null}, "text": {"field": "txt"}}}
 ]},
{"title": {"text": "FROM ST2 TO REM", "style": "ptitle"}, "width": 194, "height": 190, "resolve": {"axis": {"x": "independent", "y": "independent"}},
 "layer": [
  {"data": {"name": "L"}, "transform": [{"filter": "datum.p==10"}, {"fold": ["a","b","c","d","e","f","g","h"], "as": ["s","v"]}],
   "mark": {"type": "line", "strokeWidth": 1.3},
   "encoding": {
    "x": {"field": "t", "type": "quantitative", "scale": {"domain": [-0.56, 8.56], "nice": false}, "axis": {"values": [0,2,4,6,8], "title": null}},
    "y": {"field": "v", "type": "quantitative", "scale": {"domain": [0.0041, 0.0222], "nice": false, "zero": false}, "axis": {"values": [0.005,0.01,0.015,0.02], "format": ".3f", "title": null}},
    "color": {"field": "s", "type": "nominal"}, "strokeDash": {"field": "s", "type": "nominal", "legend": null}}},
  {"data": {"name": "A"}, "transform": [{"filter": "datum.p==10"}], "mark": {"type": "rule", "color": "#4a89c6", "strokeWidth": 2},
   "encoding": {"x": {"field": "t", "type": "quantitative", "axis": {"orient": "top", "values": [0,2,4,6,8], "labels": false, "title": null}},
    "y": {"field": "y1", "type": "quantitative", "axis": {"orient": "right", "values": [0.005,0.01,0.015,0.02], "labels": false, "title": null}}, "y2": {"field": "y2"}}},
  {"data": {"name": "A"}, "transform": [{"filter": "datum.p==10"}], "mark": {"type": "point", "filled": false, "color": "#4a89c6", "strokeWidth": 2, "size": 540, "opacity": 1},
   "encoding": {"x": {"field": "t", "type": "quantitative", "axis": null}, "y": {"field": "y2", "type": "quantitative", "axis": null},
    "shape": {"condition": {"test": "datum.y2 < datum.y1", "value": "M-0.55,-1L0,0L0.55,-1"}, "value": "M-0.55,1L0,0L0.55,1"}}},
  {"data": {"name": "T"}, "transform": [{"filter": "datum.p==10"}], "mark": {"type": "text", "font": "Lato", "fontSize": 14.5, "color": "#333333"},
   "encoding": {"x": {"field": "t", "type": "quantitative", "axis": null}, "y": {"field": "v", "type": "quantitative", "axis": null}, "text": {"field": "txt"}}}
 ]},
{"title": {"text": "FROM REM TO AW", "style": "ptitle"}, "width": 194, "height": 190, "resolve": {"axis": {"x": "independent", "y": "independent"}},
 "layer": [
  {"data": {"name": "L"}, "transform": [{"filter": "datum.p==11"}, {"fold": ["a","b","c","d","e","f","g","h"], "as": ["s","v"]}],
   "mark": {"type": "line", "strokeWidth": 1.3},
   "encoding": {
    "x": {"field": "t", "type": "quantitative", "scale": {"domain": [-0.56, 8.56], "nice": false}, "axis": {"values": [0,2,4,6,8], "title": "Time [hours]", "titlePadding": 10}},
    "y": {"field": "v", "type": "quantitative", "scale": {"domain": [0.0219, 0.0751], "nice": false, "zero": false}, "axis": {"values": [0.03,0.04,0.05,0.06,0.07], "format": ".2f", "title": null}},
    "color": {"field": "s", "type": "nominal"}, "strokeDash": {"field": "s", "type": "nominal", "legend": null}}},
  {"data": {"name": "A"}, "transform": [{"filter": "datum.p==11"}], "mark": {"type": "rule", "color": "#4a89c6", "strokeWidth": 2},
   "encoding": {"x": {"field": "t", "type": "quantitative", "axis": {"orient": "top", "values": [0,2,4,6,8], "labels": false, "title": null}},
    "y": {"field": "y1", "type": "quantitative", "axis": {"orient": "right", "values": [0.03,0.04,0.05,0.06,0.07], "labels": false, "title": null}}, "y2": {"field": "y2"}}},
  {"data": {"name": "A"}, "transform": [{"filter": "datum.p==11"}], "mark": {"type": "point", "filled": false, "color": "#4a89c6", "strokeWidth": 2, "size": 540, "opacity": 1},
   "encoding": {"x": {"field": "t", "type": "quantitative", "axis": null}, "y": {"field": "y2", "type": "quantitative", "axis": null},
    "shape": {"condition": {"test": "datum.y2 < datum.y1", "value": "M-0.55,-1L0,0L0.55,-1"}, "value": "M-0.55,1L0,0L0.55,1"}}},
  {"data": {"name": "T"}, "transform": [{"filter": "datum.p==11"}], "mark": {"type": "text", "font": "Lato", "fontSize": 14.5, "color": "#333333"},
   "encoding": {"x": {"field": "t", "type": "quantitative", "axis": null}, "y": {"field": "v", "type": "quantitative", "axis": null}, "text": {"field": "txt"}}}
 ]},
{"title": {"text": "FROM REM TO REM", "style": "ptitle"}, "width": 194, "height": 190, "resolve": {"axis": {"x": "independent", "y": "independent"}},
 "layer": [
  {"data": {"name": "L"}, "transform": [{"filter": "datum.p==12"}, {"fold": ["a","b","c","d","e","f","g","h"], "as": ["s","v"]}],
   "mark": {"type": "line", "strokeWidth": 1.3},
   "encoding": {
    "x": {"field": "t", "type": "quantitative", "scale": {"domain": [-0.56, 8.56], "nice": false}, "axis": {"values": [0,2,4,6,8], "title": null}},
    "y": {"field": "v", "type": "quantitative", "scale": {"domain": [0.8185, 0.9315], "nice": false, "zero": false}, "axis": {"values": [0.82,0.84,0.86,0.88,0.9,0.92], "format": ".2f", "title": null}},
    "color": {"field": "s", "type": "nominal"}, "strokeDash": {"field": "s", "type": "nominal", "legend": null}}},
  {"data": {"name": "A"}, "transform": [{"filter": "datum.p==12"}], "mark": {"type": "rule", "color": "#4a89c6", "strokeWidth": 2},
   "encoding": {"x": {"field": "t", "type": "quantitative", "axis": {"orient": "top", "values": [0,2,4,6,8], "labels": false, "title": null}},
    "y": {"field": "y1", "type": "quantitative", "axis": {"orient": "right", "values": [0.82,0.84,0.86,0.88,0.9,0.92], "labels": false, "title": null}}, "y2": {"field": "y2"}}},
  {"data": {"name": "A"}, "transform": [{"filter": "datum.p==12"}], "mark": {"type": "point", "filled": false, "color": "#4a89c6", "strokeWidth": 2, "size": 540, "opacity": 1},
   "encoding": {"x": {"field": "t", "type": "quantitative", "axis": null}, "y": {"field": "y2", "type": "quantitative", "axis": null},
    "shape": {"condition": {"test": "datum.y2 < datum.y1", "value": "M-0.55,-1L0,0L0.55,-1"}, "value": "M-0.55,1L0,0L0.55,1"}}},
  {"data": {"name": "T"}, "transform": [{"filter": "datum.p==12"}], "mark": {"type": "text", "font": "Lato", "fontSize": 14.5, "color": "#333333"},
   "encoding": {"x": {"field": "t", "type": "quantitative", "axis": null}, "y": {"field": "v", "type": "quantitative", "axis": null}, "text": {"field": "txt"}}}
 ]}
],
"config": {
 "view": {"stroke": "#a3a3a3", "strokeWidth": 1},
 "axis": {"domain": false, "grid": false, "tickColor": "#a3a3a3", "tickSize": 5, "tickWidth": 1, "labelFont": "Liberation Sans", "labelFontSize": 11, "labelColor": "#2b2b2b", "labelPadding": 2, "titleFont": "Lato", "titleFontSize": 18, "titleFontWeight": "bold", "titleColor": "#111111"},
 "title": {"font": "Lato", "fontSize": 15.5, "fontWeight": "normal", "color": "#1a1a1a", "anchor": "middle", "offset": 6},
 "style": {"ptitle": {"font": "Lato", "fontSize": 15.5, "fontWeight": "normal", "fill": "#1a1a1a"}, "group-title": {"fontWeight": "normal"}}
}
}
